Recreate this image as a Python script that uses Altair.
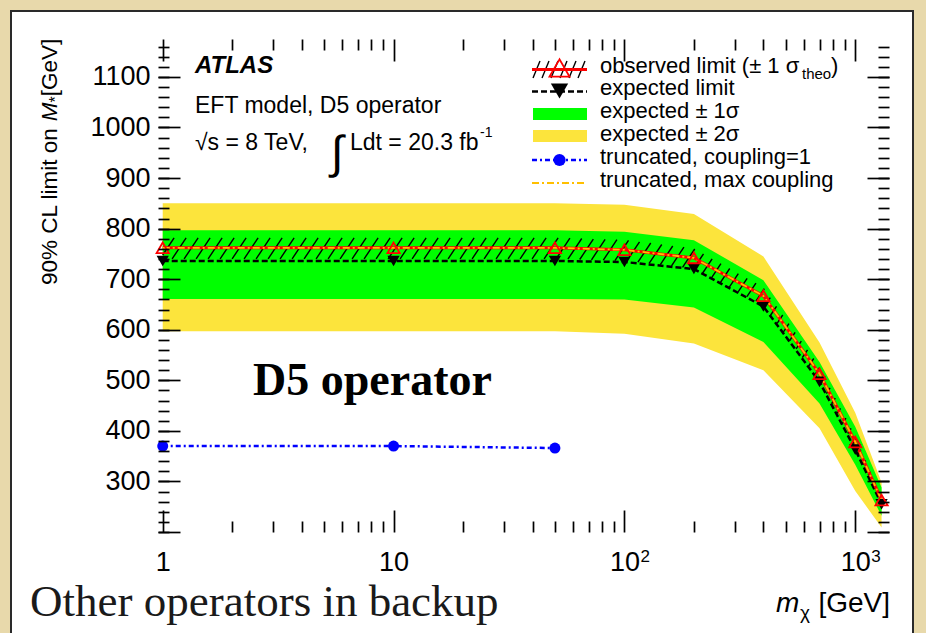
import altair as alt
import numpy as np
import pandas as pd

# ---- 90% CL limits on M* versus WIMP mass (GeV) ----------------------------
mass = [1, 10, 50, 100, 200, 400, 700, 1000, 1300]
observed = [762, 762, 762, 758, 742, 667, 513, 378, 263]
theo_up = [782, 782, 782, 778, 761, 684, 527, 389, 270]
theo_down = [740, 740, 740, 736, 721, 648, 499, 366, 256]
expected = [736, 736, 736, 734, 720, 646, 497, 363, 255]
exp_1s_up = [797, 797, 797, 794, 777, 698, 536, 408, 288]
exp_1s_down = [661, 661, 661, 660, 644, 576, 454, 333, 232]
exp_2s_up = [850, 850, 850, 847, 829, 745, 575, 436, 298]
exp_2s_down = [597, 597, 597, 592, 573, 520, 405, 281, 209]
trunc_max = [762, 762, 762, 758, 742, 667, 513, 378, 263]

trunc_mass = [1, 10, 50]
trunc_coupling1 = [370, 370, 366]

# axis ticks
x_major = [1, 10, 100, 1000]
x_minor = [k * 10 ** d for d in range(3) for k in range(2, 10)]
x_exp_at = [100, 1000]
x_exp_text = ["2", "3"]
y_major = list(range(200, 1101, 100))
y_minor = list(range(200, 1161, 20))
y_labels = list(range(300, 1101, 100))

# ---- layout -----------------------------------------------------------------
W, H = 731, 493
LEFT, TOP = 158, 39
X_DOMAIN = [0.954, 1400]
Y_DOMAIN = [200, 1175]

FONT = "Liberation Sans"
SERIF = "Liberation Serif"
BG = "#e8d9ab"
YELLOW = "#fce43c"
GREEN = "#00ff00"
ORANGE = "#ffbf00"
NBSP = "\u00a0"

df = pd.DataFrame(dict(
    mass=mass, observed=observed, theo_up=theo_up, theo_down=theo_down,
    expected=expected, exp_1s_up=exp_1s_up, exp_1s_down=exp_1s_down,
    exp_2s_up=exp_2s_up, exp_2s_down=exp_2s_down, trunc_max=trunc_max,
))
df_trunc = pd.DataFrame(dict(mass=trunc_mass, limit=trunc_coupling1))
df_exp = pd.DataFrame(dict(mass=x_exp_at, sup=x_exp_text))
one = pd.DataFrame({"k": [0]})

xs = alt.Scale(type="log", domain=X_DOMAIN, nice=False)
ys = alt.Scale(domain=Y_DOMAIN, nice=False, zero=False)


def X(f):
    return alt.X(f, type="quantitative", scale=xs, axis=None)


def Y(f):
    return alt.Y(f, type="quantitative", scale=ys, axis=None)


# ---- hatch pattern for the theory band (diagonal strokes clipped to band) --
L0, L1 = np.log10(X_DOMAIN)
mpx = (np.log10(np.array(mass, float)) - L0) / (L1 - L0) * W
up_px = (np.array(theo_up, float) - Y_DOMAIN[0]) / (Y_DOMAIN[1] - Y_DOMAIN[0]) * H
dn_px = (np.array(theo_down, float) - Y_DOMAIN[0]) / (Y_DOMAIN[1] - Y_DOMAIN[0]) * H
gx = np.arange(mpx[0], mpx[-1], 0.2)
gup = np.interp(gx, mpx, up_px)
gdn = np.interp(gx, mpx, dn_px)
slope, spacing = 1.5, 12.0
rows = []
for c in np.arange(mpx[0] - H / slope, mpx[-1], spacing):
    ly = slope * (gx - c)
    inside = (ly >= gdn) & (ly <= gup)
    if not inside.any():
        continue
    idx = np.flatnonzero(inside)
    br = np.flatnonzero(np.diff(idx) > 1)
    starts = np.r_[idx[0], idx[br + 1]]
    ends = np.r_[idx[br], idx[-1]]
    for s, e in zip(starts, ends):
        if e - s < 2:
            continue
        rows.append((gx[s], ly[s], gx[e], ly[e]))
h = np.array(rows)
to_m = lambda p: 10 ** (p / W * (L1 - L0) + L0)
to_v = lambda p: p / H * (Y_DOMAIN[1] - Y_DOMAIN[0]) + Y_DOMAIN[0]
df_hatch = pd.DataFrame(dict(xa=to_m(h[:, 0]), ya=to_v(h[:, 1]),
                             xb=to_m(h[:, 2]), yb=to_v(h[:, 3])))


# ---- helpers for annotations (pixel positions on the canvas) ---------------
def text(t, px, py, size=22, font=FONT, align="left", baseline="alphabetic",
         **kw):
    return alt.Chart(one).mark_text(
        text=t, fontSize=size, font=font, align=align, baseline=baseline,
        color=kw.pop("color", "black"), **kw
    ).encode(x=alt.value(px - LEFT), y=alt.value(py - TOP))


def seg(x1, y1, x2, y2, **kw):
    return alt.Chart(one).mark_rule(**kw).encode(
        x=alt.value(x1 - LEFT), x2=alt.value(x2 - LEFT),
        y=alt.value(y1 - TOP), y2=alt.value(y2 - TOP))


def box(x1, y1, x2, y2, **kw):
    return alt.Chart(one).mark_rect(**kw).encode(
        x=alt.value(x1 - LEFT), x2=alt.value(x2 - LEFT),
        y=alt.value(y1 - TOP), y2=alt.value(y2 - TOP))


def marker(px, py, **kw):
    return alt.Chart(one).mark_point(opacity=1, **kw).encode(
        x=alt.value(px - LEFT), y=alt.value(py - TOP))


# ---- axes: labels outside, ROOT-style inward ticks on all four sides -------
tick_common = dict(labels=False, domain=False, grid=False, title=None,
                   tickColor="black", tickWidth=1.7, zindex=1)


def axis_holder(xaxis, yaxis):
    return alt.Chart(df).mark_point(opacity=0).encode(
        x=alt.X("mass:Q", scale=xs, axis=xaxis),
        y=alt.Y("observed:Q", scale=ys, axis=yaxis))


x_label_axis = alt.Axis(
    orient="bottom", values=x_major, ticks=False, tickSize=0, domain=False,
    grid=False, title=None, zindex=1,
    labelExpr="datum.value < 5 ? '1' : '10'",
    labelFont=FONT, labelFontSize=27, labelColor="black", labelPadding=17,
    labelFlush=False, labelOverlap=False)
y_label_axis = alt.Axis(
    orient="left", values=y_labels, ticks=False, tickSize=0, domain=False,
    grid=False, title=None, zindex=1, format="d",
    labelFont=FONT, labelFontSize=27, labelColor="black", labelPadding=8,
    labelFlush=False, labelOverlap=False)

axes = [
    axis_holder(x_label_axis, y_label_axis),
    axis_holder(alt.Axis(orient="top", offset=-H, values=x_major, tickSize=22, **tick_common),
                alt.Axis(orient="right", offset=-W, values=y_major, tickSize=22, **tick_common)),
    axis_holder(alt.Axis(orient="top", offset=-H, values=x_minor, tickSize=11, **tick_common),
                alt.Axis(orient="right", offset=-W, values=y_minor, tickSize=11, **tick_common)),
    axis_holder(alt.Axis(orient="bottom", offset=-H, values=x_major, tickSize=22, **tick_common),
                alt.Axis(orient="left", offset=-W, values=y_major, tickSize=22, **tick_common)),
    axis_holder(alt.Axis(orient="bottom", offset=-H, values=x_minor, tickSize=11, **tick_common),
                alt.Axis(orient="left", offset=-W, values=y_minor, tickSize=11, **tick_common)),
]

# exponents of the 10^n tick labels, placed through the x scale
exponents = alt.Chart(df_exp).mark_text(
    font=FONT, fontSize=17, align="left", baseline="alphabetic", dx=16, color="black"
).encode(x=X("mass"), y=alt.value(562 - TOP), text="sup:N")

# ---- data layers -------------------------------------------------------------
panel = box(11, 11, 913, 645, fill="white", stroke="#2a2a2a", strokeWidth=2)

band2 = alt.Chart(df).mark_area(color=YELLOW, opacity=1, clip=True).encode(
    x=X("mass"), y=Y("exp_2s_down"), y2=alt.Y2("exp_2s_up"))
band1 = alt.Chart(df).mark_area(color=GREEN, opacity=1, clip=True).encode(
    x=X("mass"), y=Y("exp_1s_down"), y2=alt.Y2("exp_1s_up"))
hatch = alt.Chart(df_hatch).mark_rule(color="black", strokeWidth=1.4, clip=True).encode(
    x=X("xa"), x2=alt.X2("xb"), y=Y("ya"), y2=alt.Y2("yb"))

exp_line = alt.Chart(df).mark_line(color="black", strokeWidth=2.5, strokeDash=[6, 3]).encode(
    x=X("mass"), y=Y("expected"))
obs_line = alt.Chart(df).mark_line(color="red", strokeWidth=3).encode(
    x=X("mass"), y=Y("observed"))
max_line = alt.Chart(df).mark_line(color=ORANGE, strokeWidth=1.8, strokeDash=[7, 3, 2, 3]).encode(
    x=X("mass"), y=Y("trunc_max"))
c1_line = alt.Chart(df_trunc).mark_line(color="blue", strokeWidth=2.5, strokeDash=[5, 3, 2, 3]).encode(
    x=X("mass"), y=Y("limit"))

exp_pts = alt.Chart(df).mark_point(shape="triangle-down", filled=True, color="black",
                                   size=150, opacity=1).encode(x=X("mass"), y=Y("expected"))
obs_pts = alt.Chart(df).mark_point(shape="triangle-up", filled=False, color="red",
                                   strokeWidth=1.8, size=150, opacity=1).encode(
    x=X("mass"), y=Y("observed"))
c1_pts = alt.Chart(df_trunc).mark_point(shape="circle", filled=True, color="blue",
                                        size=121, opacity=1).encode(x=X("mass"), y=Y("limit"))

# ---- legend -----------------------------------------------------------------
LX1, LX2, LXC, TX = 532, 587, 559.5, 600
LS = 22
legend = []
for i in range(6):
    legend.append(seg(533 + 9 * i, 78, 540 + 9 * i, 61, color="black", strokeWidth=1.4))
legend += [
    seg(LX1, 69.5, LX2, 69.5, color="red", strokeWidth=3),
    marker(LXC, 68, shape="triangle-up", filled=False, color="red", strokeWidth=1.8, size=400),
    seg(LX1, 91.5, LX2, 91.5, color="black", strokeWidth=2.5, strokeDash=[6, 3]),
    marker(LXC, 91, shape="triangle-down", filled=True, color="black", size=300),
    box(533, 108, 587, 120, fill=GREEN),
    box(533, 130, 587, 142, fill=YELLOW),
    seg(LX1, 160, LX2, 160, color="blue", strokeWidth=2.5, strokeDash=[5, 3, 2, 3]),
    marker(LXC, 160, shape="circle", filled=True, color="blue", size=150),
    seg(LX1, 183, LX2, 183, color=ORANGE, strokeWidth=2, strokeDash=[7, 3, 2, 3]),
    text("observed limit (± 1 σ", TX, 72.5, size=LS),
    text("theo", 802, 79, size=15),
    text(")", 831, 72.5, size=LS),
    text("expected limit", TX, 95, size=LS),
    text("expected ± 1σ", TX, 117.5, size=LS),
    text("expected ± 2σ", TX, 140.5, size=LS),
    text("truncated, coupling=1", TX, 163.5, size=LS),
    text("truncated, max coupling", TX, 186.5, size=LS),
]

# ---- labels and titles -------------------------------------------------------
YT = 22.5
notes = [
    text("ATLAS", 195, 73, size=24, fontWeight="bold", fontStyle="italic"),
    text("EFT model, D5 operator", 195, 112.5, size=23),
    text("√s = 8 TeV,", 195, 150, size=23),
    text("∫", 331, 168, size=46),
    text("Ldt = 20.3 fb", 350, 150, size=23),
    text("-1", 480, 137, size=14),
    text("D5 operator", 253, 395, size=46, font=SERIF, fontWeight="bold"),
    text("Other operators in backup", 30, 616, size=45, font=SERIF, color="#1a1a1a"),
    # x-axis title
    text("m", 776, 612, size=28, fontStyle="italic"),
    text("χ", 800, 619, size=19),
    text("[GeV]", 890, 612, size=28, align="right"),
    # y-axis title (rotated pieces)
    text("90% CL limit on ", 57, 285, size=YT, angle=270),
    text("M", 57, 285 - 7.28 * YT, size=YT, angle=270, fontStyle="italic"),
    text("*", 61, 285 - 8.113 * YT, size=16, angle=270),
    text(NBSP + "[GeV]", 57, 285 - 8.113 * YT - 6.2, size=YT, angle=270),
]

layers = [panel, band2, band1, hatch, exp_line, obs_line, max_line, c1_line,
          exp_pts, obs_pts, c1_pts] + legend + notes + [exponents] + axes

chart = alt.layer(*layers).resolve_axis(
    x="independent", y="independent"
).properties(
    width=W, height=H,
    padding={"left": LEFT, "top": TOP, "right": 926 - LEFT - W, "bottom": 633 - TOP - H},
    autosize=alt.AutoSizeParams(type="none"),
    background=BG,
).configure_view(stroke="black", strokeWidth=2, fill=None)

chart.save("out.html", embed_options={"renderer": "svg", "actions": False})
